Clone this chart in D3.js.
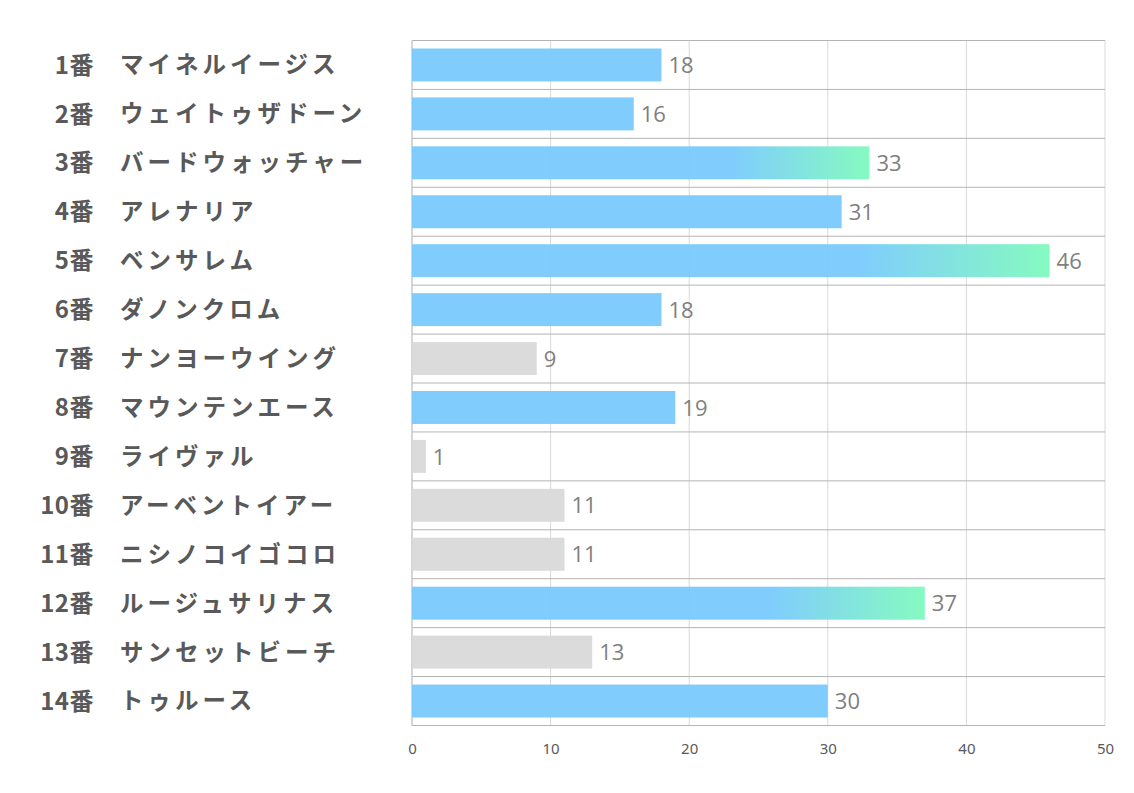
<!DOCTYPE html>
<html>
<head>
<meta charset="utf-8">
<script src="https://cdn.jsdelivr.net/npm/d3@7"></script>
<style>
  body { margin: 0; background: #fff; }
  svg { display: block; }
</style>
</head>
<body>
<svg></svg>
<script>
// data
var numbers = ["1番","2番","3番","4番","5番","6番","7番","8番","9番","10番","11番","12番","13番","14番"];
var horses = ["マイネルイージス","ウェイトゥザドーン","バードウォッチャー","アレナリア","ベンサレム","ダノンクロム",
  "ナンヨーウイング","マウンテンエース","ライヴァル","アーベントイアー","ニシノコイゴコロ","ルージュサリナス",
  "サンセットビーチ","トゥルース"];
var values = [18, 16, 33, 31, 46, 18, 9, 19, 1, 11, 11, 37, 13, 30];
var xTicks = [0, 10, 20, 30, 40, 50];

var width = 1134;
var height = 793;
var margin = {top: 40.5, right: 29, bottom: 67.5, left: 412};

var svg = d3.select("svg")
  .attr("width", width)
  .attr("height", height);

var xScale = d3.scaleLinear()
  .domain([0, 50])
  .range([margin.left, width - margin.right]);

var yScale = d3.scaleBand()
  .domain(d3.range(values.length))
  .range([margin.top, height - margin.bottom])
  .paddingInner(0.326)
  .paddingOuter(0.163);

// gradient for the top bars
var defs = svg.append("defs");
var grad = defs.append("linearGradient")
  .attr("id", "hot")
  .attr("x1", "0").attr("x2", "1").attr("y1", "0").attr("y2", "0");
grad.append("stop").attr("offset", "0.7").attr("stop-color", "#79cafd");
grad.append("stop").attr("offset", "1").attr("stop-color", "#7ffabd");

// vertical grid lines
svg.append("g")
  .selectAll("line")
  .data(xTicks)
  .enter()
  .append("line")
    .attr("x1", d => xScale(d)).attr("x2", d => xScale(d))
    .attr("y1", margin.top).attr("y2", height - margin.bottom)
    .attr("stroke", "#d9d9d9")
    .attr("stroke-width", 1);

// horizontal row separators
var rowEdges = d3.range(values.length + 1);
var rowH = (height - margin.top - margin.bottom) / values.length;
svg.append("g")
  .selectAll("line")
  .data(rowEdges)
  .enter()
  .append("line")
    .attr("x1", margin.left).attr("x2", width - margin.right)
    .attr("y1", d => margin.top + d * rowH)
    .attr("y2", d => margin.top + d * rowH)
    .attr("stroke", "#b4b4b4")
    .attr("stroke-width", 1);

// left axis line
svg.append("line")
  .attr("x1", xScale(0)).attr("x2", xScale(0))
  .attr("y1", margin.top).attr("y2", height - margin.bottom)
  .attr("stroke", "#bfbfbf");

var barColor = function(v) {
  if (v >= 32) return "url(#hot)";
  if (v < 15) return "#d9d9d9";
  return "#79cafd";
};

// bars
svg.append("g")
  .selectAll("rect")
  .data(values)
  .enter()
  .append("rect")
    .attr("x", xScale(0))
    .attr("y", (d, i) => yScale(i))
    .attr("width", d => xScale(d) - xScale(0))
    .attr("height", yScale.bandwidth())
    .attr("fill", d => barColor(d))
    .attr("fill-opacity", 0.95);

// value labels
svg.append("g")
  .selectAll("text")
  .data(values)
  .enter()
  .append("text")
    .attr("x", d => xScale(d) + 7)
    .attr("y", (d, i) => yScale(i) + yScale.bandwidth() / 2)
    .attr("dy", "0.37em")
    .style("font-family", "'Open Sans', 'Noto Sans', sans-serif")
    .style("font-size", "22px")
    .style("fill", "#7f7f7f")
    .text(d => d);

// row labels: number then horse name
var labels = svg.append("g")
  .style("font-family", "'Noto Sans CJK JP', sans-serif")
  .style("font-weight", "bold")
  .style("fill", "#595959");

labels.selectAll("text.num")
  .data(numbers)
  .enter()
  .append("text")
    .attr("class", "num")
    .attr("x", 94)
    .attr("y", (d, i) => yScale(i) + yScale.bandwidth() / 2)
    .attr("dy", "0.36em")
    .style("text-anchor", "end")
    .style("font-size", "24px")
    .style("letter-spacing", "0.5px")
    .text(d => d);

labels.selectAll("text.name")
  .data(horses)
  .enter()
  .append("text")
    .attr("class", "name")
    .attr("x", 120)
    .attr("y", (d, i) => yScale(i) + yScale.bandwidth() / 2)
    .attr("dy", "0.36em")
    .style("font-size", "23.5px")
    .style("letter-spacing", "4px")
    .text(d => d);

// x axis tick labels
var xAxis = d3.axisBottom(xScale)
  .tickValues(xTicks)
  .tickSize(0)
  .tickPadding(18);
var gx = svg.append("g")
  .attr("transform", "translate(0," + (height - margin.bottom) + ")")
  .call(xAxis);
gx.select(".domain").remove();
gx.selectAll("text")
  .style("font-family", "'Noto Sans', sans-serif")
  .style("font-size", "15px")
  .style("fill", "#595959");
</script>
</body>
</html>
